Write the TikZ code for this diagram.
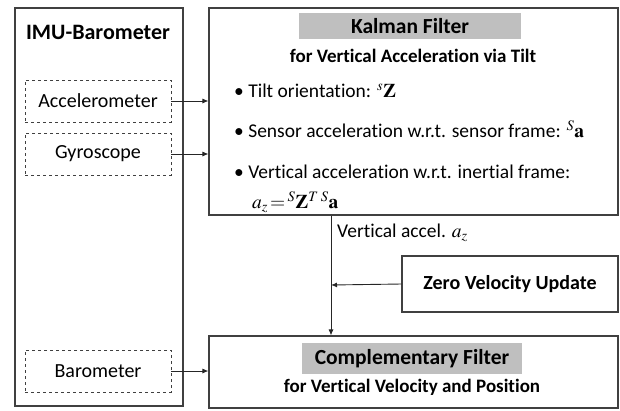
\documentclass[tikz,border=0pt]{standalone}
\usepackage{mathptmx}
\usepackage{fontspec}
\setmainfont[Ligatures=CommonOff]{Carlito}
\usetikzlibrary{arrows.meta,positioning}
\tikzset{
  frame/.style={draw=black!75, line width=1.1pt, fill=white},
  sensor/.style={draw=black!75, line width=0.9pt, dashed, minimum width=146pt, minimum height=42pt, font=\fontsize{20}{22}\selectfont},
  titlebar/.style={fill=black!25, inner sep=0pt, font=\bfseries\fontsize{21.5}{23}\selectfont},
  item/.style={anchor=west, inner sep=0pt, font=\fontsize{19.5}{22}\selectfont},
  flow/.style={line width=0.9pt, draw=black!85, -{Latex[length=6pt,width=5pt]}}
}
\begin{document}
\begin{tikzpicture}[x=1pt,y=-1pt]
      \useasboundingbox (0,0) rectangle (620,410);
      \draw
        (99,207) node[frame, minimum width=168pt, minimum height=398pt] (imu){}
        (413.5,111.5) node[frame, minimum width=409pt, minimum height=207pt] (kalman){}
        (510,284) node[frame, minimum width=216pt, minimum height=56pt, font=\bfseries\fontsize{20}{22}\selectfont] (zvu){Zero Velocity Update}
        (413.5,372) node[frame, minimum width=409pt, minimum height=72pt] (comp){};
      \node[font=\bfseries\fontsize{22}{24}\selectfont] (imutitle) at (98,32) {IMU-Barometer};
      \node[sensor] (acc) at (98,101) {Accelerometer};
      \node[sensor] (gyro) at (98,154) {Gyroscope};
      \node[sensor] (baro) at (98,371) {Barometer};
      \node[titlebar, minimum width=222pt, minimum height=26pt] (kaltitle) at (410,26) {Kalman Filter};
      \node[font=\bfseries\fontsize{19}{21}\selectfont] (kalsub) at (413,56) {for Vertical Acceleration via Tilt};
      \node[item] (tilt) at (234,91) {• Tilt orientation: ${}^{s}\mathbf{Z}$};
      \node[item] (sens) at (234,129) {• Sensor acceleration w.r.t. sensor frame: ${}^{S}\mathbf{a}$};
      \node[item] (vert) at (234,172) {• Vertical acceleration w.r.t. inertial frame:};
      \node[item] (formula) at (252,202) {$a_z\!=\!{}^{S}\mathbf{Z}^{T}\,{}^{S}\mathbf{a}$};
      \node[titlebar, minimum width=220pt, minimum height=31pt] (comptitle) at (412,358.5) {Complementary Filter};
      \node[font=\bfseries\fontsize{19}{21}\selectfont] (compsub) at (412,387) {for Vertical Velocity and Position};
      \coordinate (split) at (331,285);
      \node[item] (acclabel) at (337,233) {Vertical accel. $a_z$};
      \begin{scope}[flow]
        \draw (acc.east) to (acc.east -| kalman.west);
        \draw (gyro.east) to (gyro.east -| kalman.west);
        \draw (baro.east) to (baro.east -| comp.west);
        \draw (kalman.south -| split) to (comp.north -| split);
        \draw (zvu.west) to (split);
      \end{scope}
    \end{tikzpicture}
\end{document}
